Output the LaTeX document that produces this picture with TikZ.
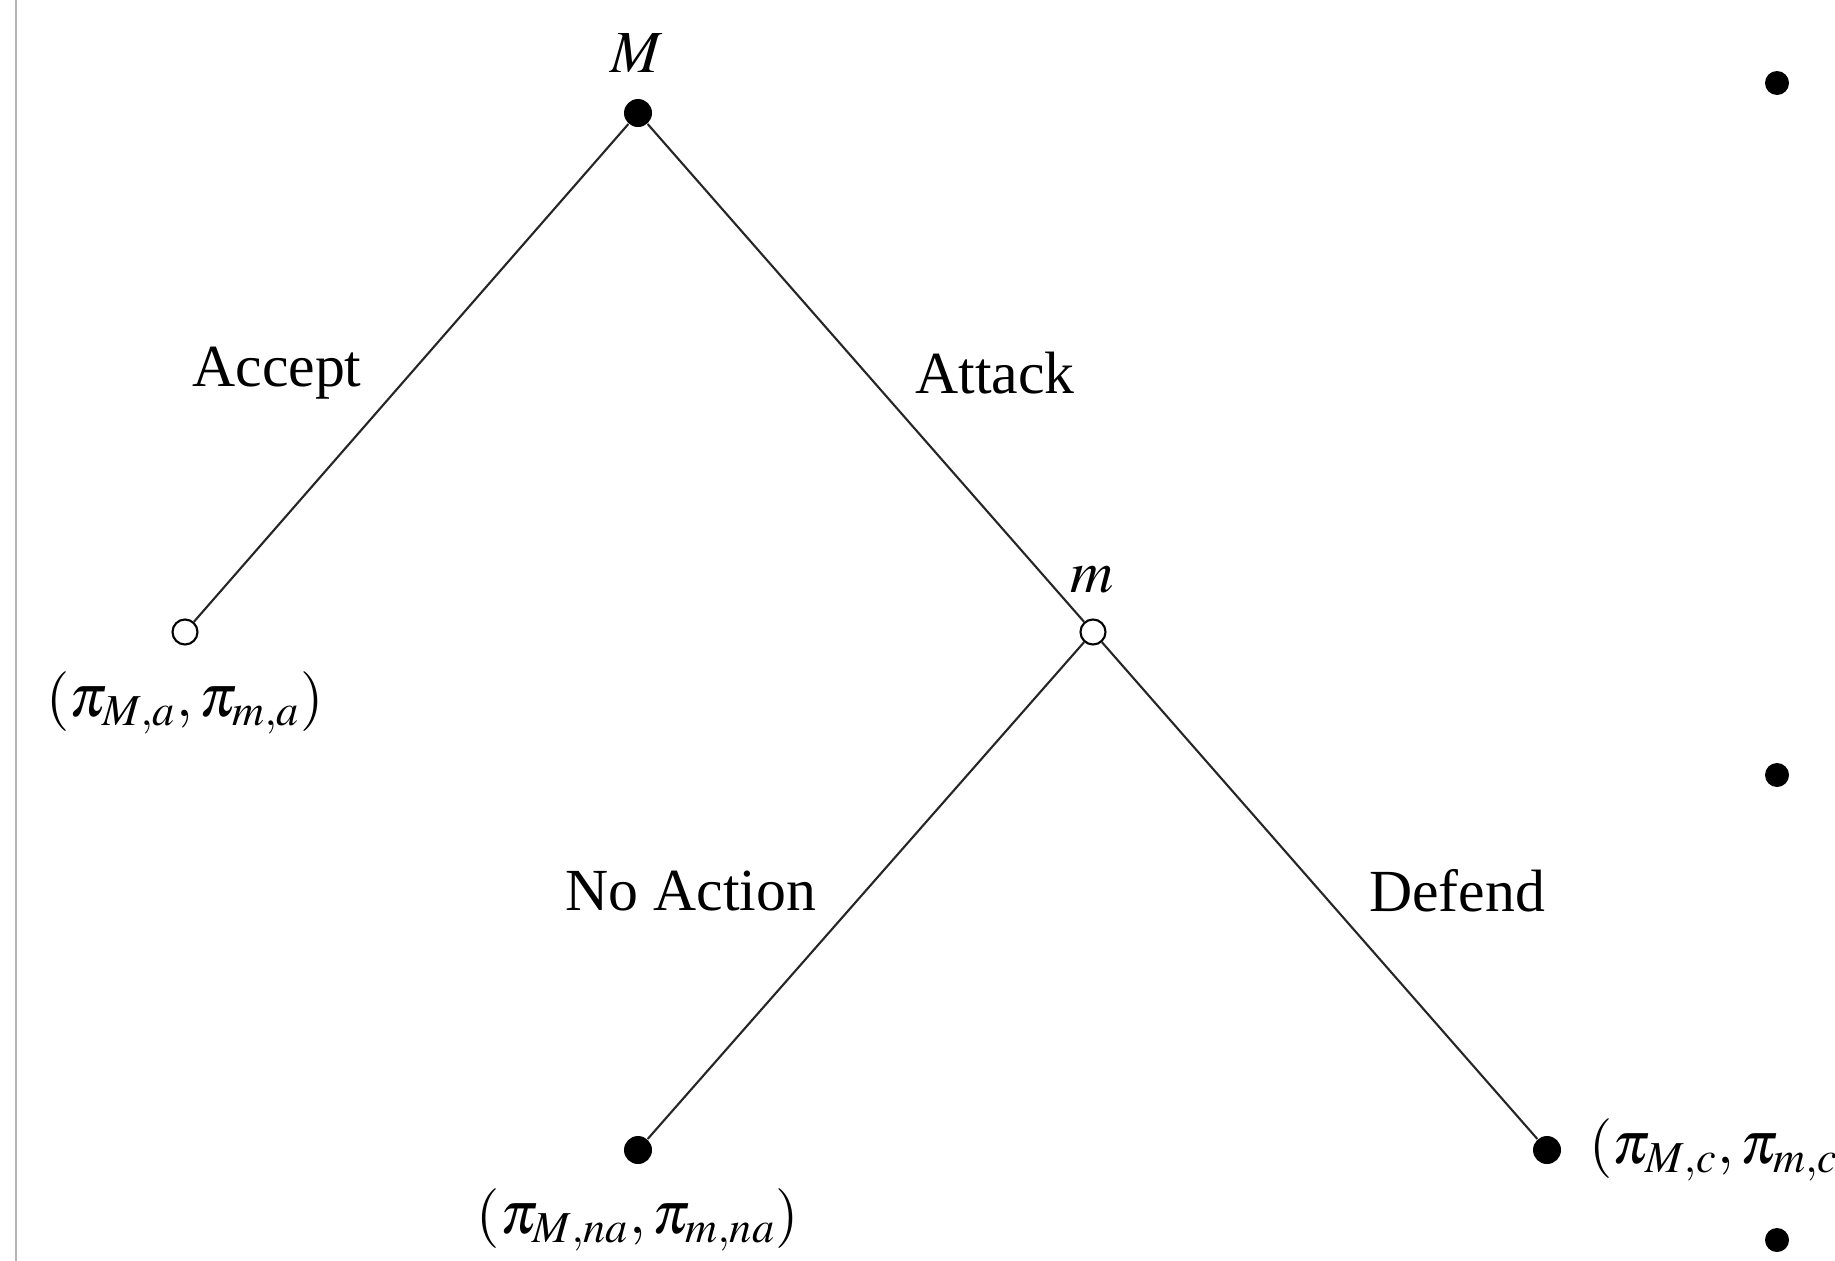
\documentclass[tikz,border=0pt]{standalone}
\usepackage{mathptmx}
\usepackage{fontspec}
\setmainfont{Liberation Serif}
\usetikzlibrary{positioning}
\definecolor{framegray}{RGB}{180, 180, 180}

\begin{document}
\begin{tikzpicture}[
        font=\fontsize{17}{20}\selectfont,
        decision/.style={
            circle,
            fill=black,
            inner sep=0pt,
            minimum size=0.28cm
        },
        chance/.style={
            circle,
            draw=black,
            fill=white,
            line width=0.6pt,
            inner sep=0pt,
            minimum size=0.25cm
        },
        player/.style={
            inner sep=1pt
        },
        payoff/.style={
            inner sep=1pt
        },
        branch/.style={
            line width=0.6pt,
            draw=black!85
        },
        move/.style={
            inner sep=1pt
        }
    ]
        \useasboundingbox (0,0) rectangle (18.35,-12.61);
        \clip (0,0) rectangle (18.35,-12.61);
        \draw[framegray, line width=0.25mm] (0.16,0) -- (0.16,-12.61);

        \node[decision] (M) at (6.38,-1.13) {};
        \node[chance] (accept) at (1.85,-6.32) {};
        \node[chance] (m) at (10.93,-6.32) {};
        \node[decision] (noaction) at (6.38,-11.50) {};
        \node[decision] (defend) at (15.47,-11.50) {};

        \node[player] (Mlabel) at (6.37,-0.53) {$M$};
        \node[player] (mlabel) at (10.92,-5.80) {$m$};

        \node[payoff] (pa) at (1.85,-7.03) {$(\pi_{M,a},\pi_{m,a})$};
        \node[payoff] (pna) at (6.38,-12.20) {$(\pi_{M,na},\pi_{m,na})$};
        \node[payoff, anchor=west] (pc) at (15.85,-11.50) {$(\pi_{M,c},\pi_{m,c})$};

        \draw[branch] (M) -- node[move, left=0.45cm] (lacc) {Accept} (accept);
        \draw[branch] (M) -- node[move, right=0.45cm] (latt) {Attack} (m);
        \draw[branch] (m) -- node[move, left=0.45cm] (lna) {No Action} (noaction);
        \draw[branch] (m) -- node[move, right=0.45cm] (ldef) {Defend} (defend);

        \fill (17.77,-0.83) circle (0.12);
        \fill (17.77,-7.75) circle (0.12);
        \fill (17.77,-12.40) circle (0.12);
    \end{tikzpicture}
\end{document}
